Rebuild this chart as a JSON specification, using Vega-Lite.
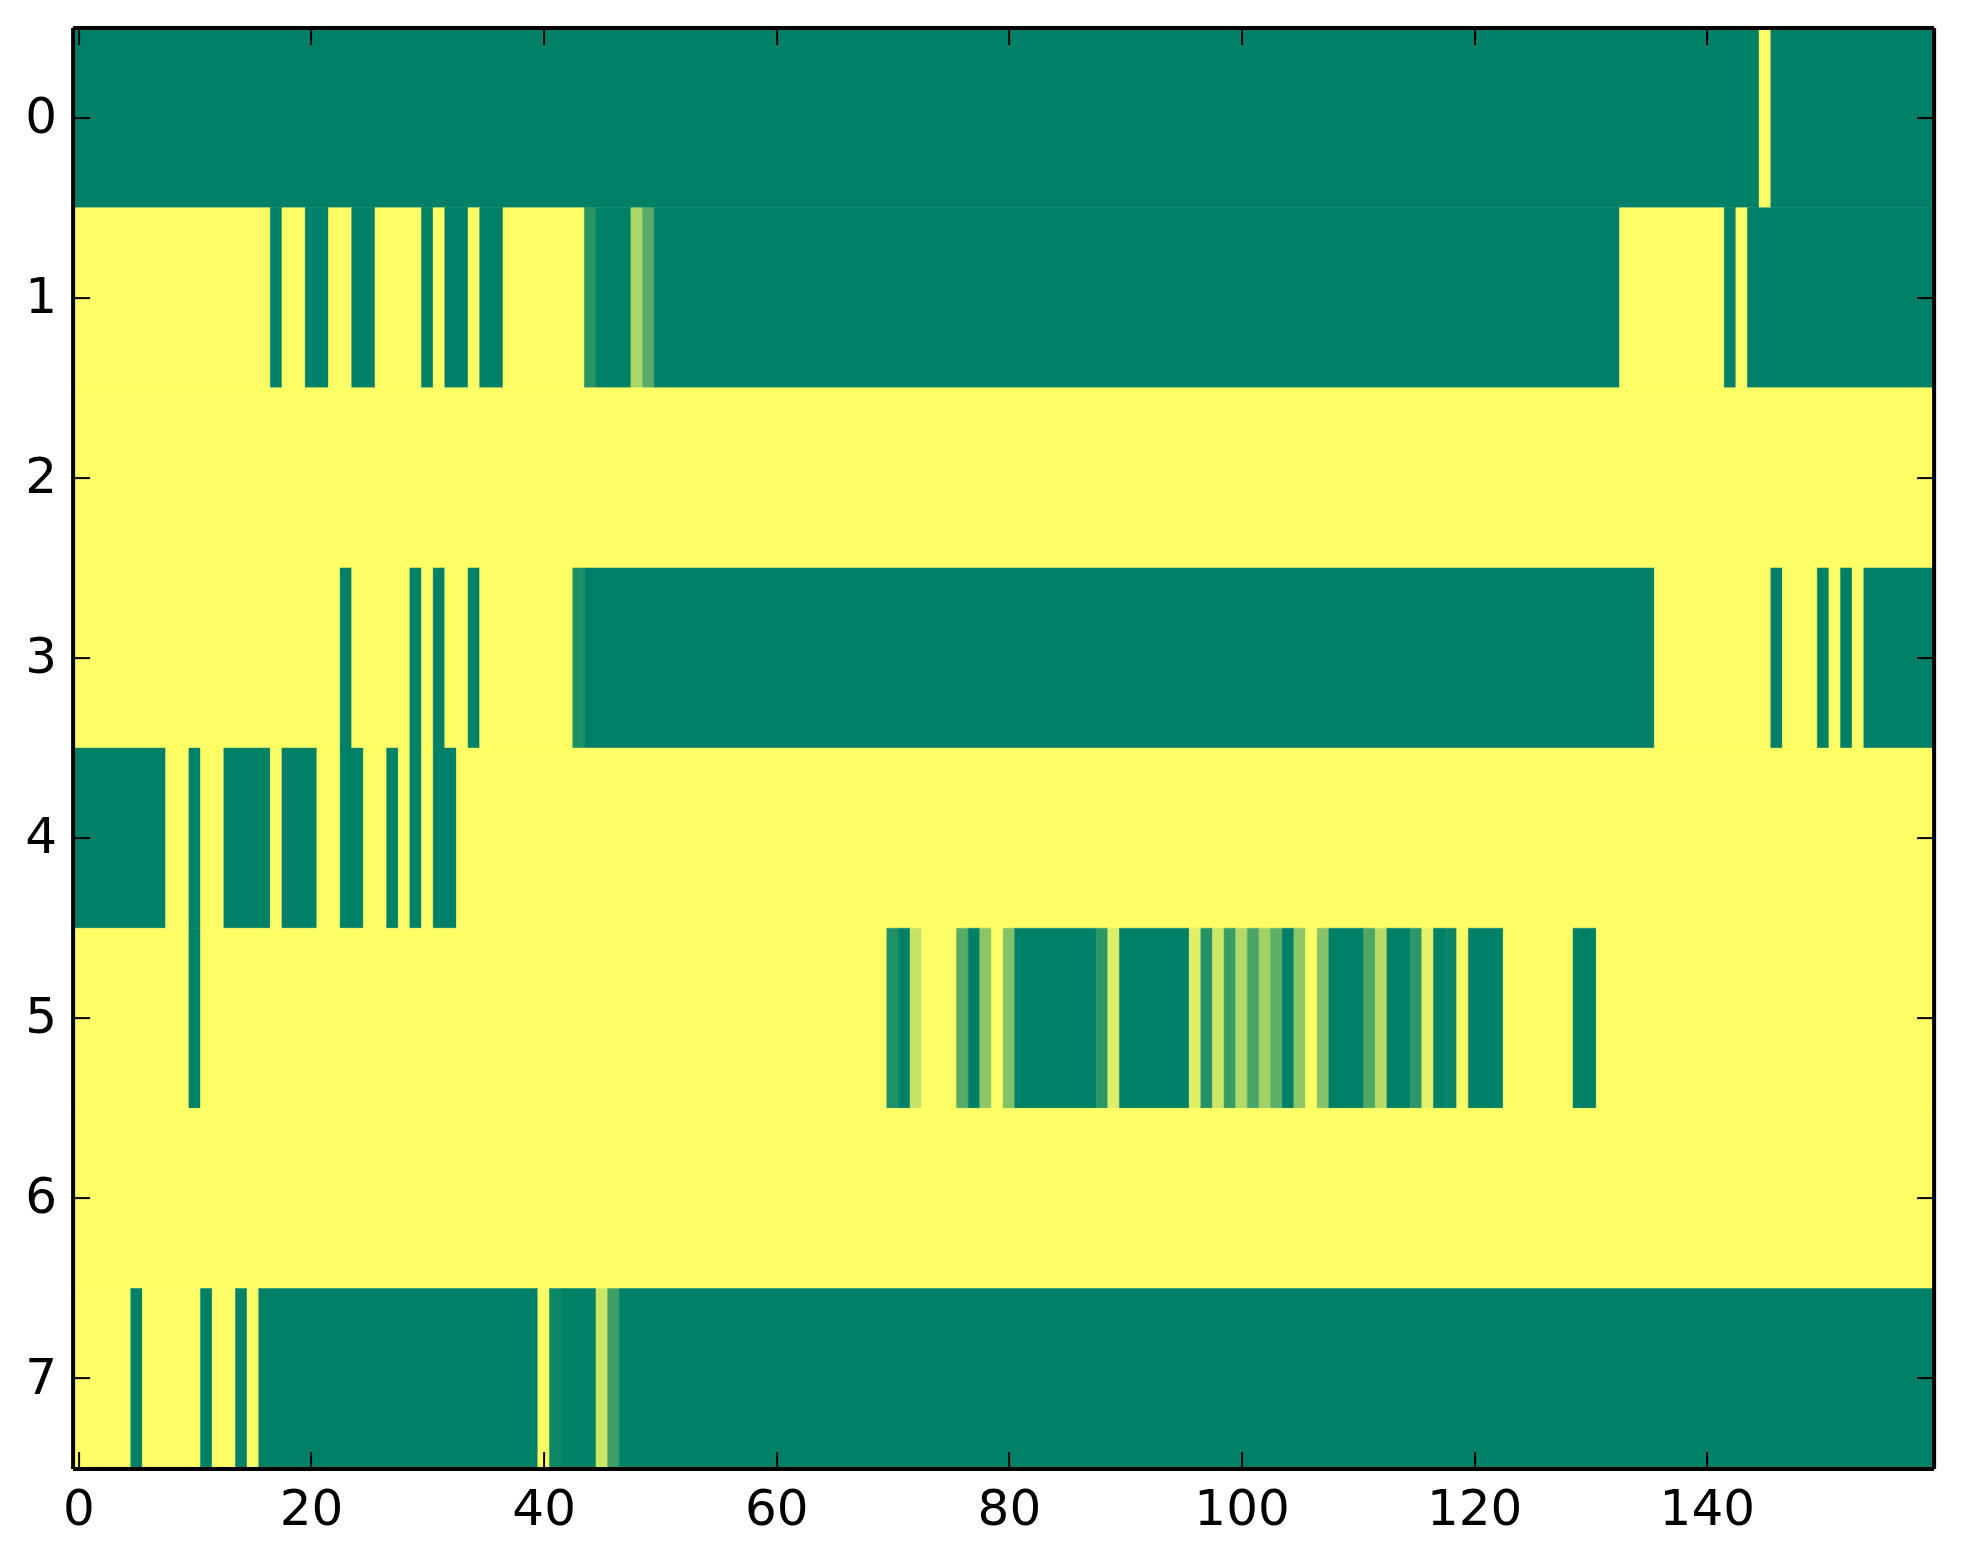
{
  "$schema": "https://vega.github.io/schema/vega-lite/v6.json",
  "width": 1861,
  "height": 1441,
  "autosize": {"type": "none"},
  "padding": {"left": 72.6, "top": 27.6, "right": 29.4, "bottom": 95.4},
  "background": "white",
  "data": {
    "values": [
      {"row": 0, "x0": -0.5, "x1": 144.5, "v": 0},
      {"row": 0, "x0": 144.5, "x1": 145.5, "v": 1},
      {"row": 0, "x0": 145.5, "x1": 159.5, "v": 0},

      {"row": 1, "x0": -0.5, "x1": 16.5, "v": 1},
      {"row": 1, "x0": 16.5, "x1": 17.5, "v": 0},
      {"row": 1, "x0": 17.5, "x1": 19.5, "v": 1},
      {"row": 1, "x0": 19.5, "x1": 21.5, "v": 0},
      {"row": 1, "x0": 21.5, "x1": 23.5, "v": 1},
      {"row": 1, "x0": 23.5, "x1": 25.5, "v": 0},
      {"row": 1, "x0": 25.5, "x1": 29.5, "v": 1},
      {"row": 1, "x0": 29.5, "x1": 30.5, "v": 0},
      {"row": 1, "x0": 30.5, "x1": 31.5, "v": 1},
      {"row": 1, "x0": 31.5, "x1": 33.5, "v": 0},
      {"row": 1, "x0": 33.5, "x1": 34.5, "v": 1},
      {"row": 1, "x0": 34.5, "x1": 36.5, "v": 0},
      {"row": 1, "x0": 36.5, "x1": 43.5, "v": 1},
      {"row": 1, "x0": 43.5, "x1": 44.5, "v": 0.16},
      {"row": 1, "x0": 44.5, "x1": 47.5, "v": 0},
      {"row": 1, "x0": 47.5, "x1": 48.5, "v": 0.68},
      {"row": 1, "x0": 48.5, "x1": 49.5, "v": 0.35},
      {"row": 1, "x0": 49.5, "x1": 132.5, "v": 0},
      {"row": 1, "x0": 132.5, "x1": 141.5, "v": 1},
      {"row": 1, "x0": 141.5, "x1": 142.5, "v": 0},
      {"row": 1, "x0": 142.5, "x1": 143.5, "v": 1},
      {"row": 1, "x0": 143.5, "x1": 159.5, "v": 0},

      {"row": 2, "x0": -0.5, "x1": 159.5, "v": 1},

      {"row": 3, "x0": -0.5, "x1": 22.5, "v": 1},
      {"row": 3, "x0": 22.5, "x1": 23.5, "v": 0},
      {"row": 3, "x0": 23.5, "x1": 28.5, "v": 1},
      {"row": 3, "x0": 28.5, "x1": 29.5, "v": 0},
      {"row": 3, "x0": 29.5, "x1": 30.5, "v": 1},
      {"row": 3, "x0": 30.5, "x1": 31.5, "v": 0},
      {"row": 3, "x0": 31.5, "x1": 33.5, "v": 1},
      {"row": 3, "x0": 33.5, "x1": 34.5, "v": 0},
      {"row": 3, "x0": 34.5, "x1": 42.5, "v": 1},
      {"row": 3, "x0": 42.5, "x1": 43.5, "v": 0.12},
      {"row": 3, "x0": 43.5, "x1": 135.5, "v": 0},
      {"row": 3, "x0": 135.5, "x1": 145.5, "v": 1},
      {"row": 3, "x0": 145.5, "x1": 146.5, "v": 0},
      {"row": 3, "x0": 146.5, "x1": 149.5, "v": 1},
      {"row": 3, "x0": 149.5, "x1": 150.5, "v": 0},
      {"row": 3, "x0": 150.5, "x1": 151.5, "v": 1},
      {"row": 3, "x0": 151.5, "x1": 152.5, "v": 0},
      {"row": 3, "x0": 152.5, "x1": 153.5, "v": 1},
      {"row": 3, "x0": 153.5, "x1": 159.5, "v": 0},

      {"row": 4, "x0": -0.5, "x1": 7.5, "v": 0},
      {"row": 4, "x0": 7.5, "x1": 9.5, "v": 1},
      {"row": 4, "x0": 9.5, "x1": 10.5, "v": 0},
      {"row": 4, "x0": 10.5, "x1": 12.5, "v": 1},
      {"row": 4, "x0": 12.5, "x1": 16.5, "v": 0},
      {"row": 4, "x0": 16.5, "x1": 17.5, "v": 1},
      {"row": 4, "x0": 17.5, "x1": 20.5, "v": 0},
      {"row": 4, "x0": 20.5, "x1": 22.5, "v": 1},
      {"row": 4, "x0": 22.5, "x1": 24.5, "v": 0},
      {"row": 4, "x0": 24.5, "x1": 26.5, "v": 1},
      {"row": 4, "x0": 26.5, "x1": 27.5, "v": 0},
      {"row": 4, "x0": 27.5, "x1": 28.5, "v": 1},
      {"row": 4, "x0": 28.5, "x1": 29.5, "v": 0},
      {"row": 4, "x0": 29.5, "x1": 30.5, "v": 1},
      {"row": 4, "x0": 30.5, "x1": 32.5, "v": 0},
      {"row": 4, "x0": 32.5, "x1": 159.5, "v": 1},

      {"row": 5, "x0": -0.5, "x1": 9.5, "v": 1},
      {"row": 5, "x0": 9.5, "x1": 10.5, "v": 0},
      {"row": 5, "x0": 10.5, "x1": 69.5, "v": 1},
      {"row": 5, "x0": 69.5, "x1": 70.5, "v": 0.13},
      {"row": 5, "x0": 70.5, "x1": 71.5, "v": 0},
      {"row": 5, "x0": 71.5, "x1": 72.5, "v": 0.78},
      {"row": 5, "x0": 72.5, "x1": 75.5, "v": 1},
      {"row": 5, "x0": 75.5, "x1": 76.5, "v": 0.35},
      {"row": 5, "x0": 76.5, "x1": 77.5, "v": 0},
      {"row": 5, "x0": 77.5, "x1": 78.5, "v": 0.55},
      {"row": 5, "x0": 78.5, "x1": 79.5, "v": 1},
      {"row": 5, "x0": 79.5, "x1": 80.5, "v": 0.51},
      {"row": 5, "x0": 80.5, "x1": 87.5, "v": 0},
      {"row": 5, "x0": 87.5, "x1": 88.5, "v": 0.17},
      {"row": 5, "x0": 88.5, "x1": 89.5, "v": 0.87},
      {"row": 5, "x0": 89.5, "x1": 95.5, "v": 0},
      {"row": 5, "x0": 95.5, "x1": 96.5, "v": 0.88},
      {"row": 5, "x0": 96.5, "x1": 97.5, "v": 0.14},
      {"row": 5, "x0": 97.5, "x1": 98.5, "v": 0.8},
      {"row": 5, "x0": 98.5, "x1": 99.5, "v": 0.22},
      {"row": 5, "x0": 99.5, "x1": 100.5, "v": 0.7},
      {"row": 5, "x0": 100.5, "x1": 101.5, "v": 0.29},
      {"row": 5, "x0": 101.5, "x1": 102.5, "v": 0.63},
      {"row": 5, "x0": 102.5, "x1": 103.5, "v": 0.37},
      {"row": 5, "x0": 103.5, "x1": 104.5, "v": 0},
      {"row": 5, "x0": 104.5, "x1": 105.5, "v": 0.55},
      {"row": 5, "x0": 105.5, "x1": 106.5, "v": 1},
      {"row": 5, "x0": 106.5, "x1": 107.5, "v": 0.53},
      {"row": 5, "x0": 107.5, "x1": 110.5, "v": 0},
      {"row": 5, "x0": 110.5, "x1": 111.5, "v": 0.31},
      {"row": 5, "x0": 111.5, "x1": 112.5, "v": 0.72},
      {"row": 5, "x0": 112.5, "x1": 114.5, "v": 0},
      {"row": 5, "x0": 114.5, "x1": 115.5, "v": 0.17},
      {"row": 5, "x0": 115.5, "x1": 116.5, "v": 0.9},
      {"row": 5, "x0": 116.5, "x1": 117.5, "v": 0},
      {"row": 5, "x0": 117.5, "x1": 118.5, "v": 0.04},
      {"row": 5, "x0": 118.5, "x1": 119.5, "v": 1},
      {"row": 5, "x0": 119.5, "x1": 122.5, "v": 0},
      {"row": 5, "x0": 122.5, "x1": 128.5, "v": 1},
      {"row": 5, "x0": 128.5, "x1": 130.5, "v": 0},
      {"row": 5, "x0": 130.5, "x1": 159.5, "v": 1},

      {"row": 6, "x0": -0.5, "x1": 159.5, "v": 1},

      {"row": 7, "x0": -0.5, "x1": 4.5, "v": 1},
      {"row": 7, "x0": 4.5, "x1": 5.5, "v": 0},
      {"row": 7, "x0": 5.5, "x1": 10.5, "v": 1},
      {"row": 7, "x0": 10.5, "x1": 11.5, "v": 0},
      {"row": 7, "x0": 11.5, "x1": 13.5, "v": 1},
      {"row": 7, "x0": 13.5, "x1": 14.5, "v": 0},
      {"row": 7, "x0": 14.5, "x1": 15.5, "v": 1},
      {"row": 7, "x0": 15.5, "x1": 39.5, "v": 0},
      {"row": 7, "x0": 39.5, "x1": 40.5, "v": 1},
      {"row": 7, "x0": 40.5, "x1": 41.5, "v": 0.05},
      {"row": 7, "x0": 41.5, "x1": 44.5, "v": 0},
      {"row": 7, "x0": 44.5, "x1": 45.5, "v": 0.8},
      {"row": 7, "x0": 45.5, "x1": 46.5, "v": 0.24},
      {"row": 7, "x0": 46.5, "x1": 159.5, "v": 0}
    ]
  },
  "encoding": {
    "x": {"field": "x0", "type": "quantitative", "scale": {"domain": [-0.5, 159.5], "nice": false, "zero": false}},
    "x2": {"field": "x1"},
    "y": {"field": "row", "type": "ordinal", "scale": {"domain": [0, 1, 2, 3, 4, 5, 6, 7], "paddingInner": 0, "paddingOuter": 0}},
    "color": {"field": "v", "type": "quantitative", "legend": null,
      "scale": {"domain": [0, 1], "range": ["#008066", "#ffff66"], "interpolate": "rgb"}},
    "stroke": {"field": "v", "type": "quantitative", "legend": null,
      "scale": {"domain": [0, 1], "range": ["#008066", "#ffff66"], "interpolate": "rgb"}}
  },
  "layer": [
    {
      "mark": {"type": "rect", "strokeWidth": 0.5},
      "encoding": {
        "x": {"field": "x0", "type": "quantitative", "title": null,
          "axis": {"orient": "bottom", "values": [0, 20, 40, 60, 80, 100, 120, 140], "labelPadding": 33, "zindex": 2}},
        "y": {"field": "row", "type": "ordinal", "title": null,
          "axis": {"orient": "left", "labelPadding": 33, "labelAngle": 0, "zindex": 2}}
      }
    },
    {
      "mark": {"type": "rect", "opacity": 0},
      "encoding": {
        "x": {"field": "x0", "type": "quantitative", "title": null,
          "axis": {"orient": "top", "values": [0, 20, 40, 60, 80, 100, 120, 140], "labels": false, "zindex": 2}},
        "y": {"field": "row", "type": "ordinal", "title": null,
          "axis": {"orient": "right", "labels": false, "zindex": 2}}
      }
    }
  ],
  "resolve": {"axis": {"x": "independent", "y": "independent"}},
  "config": {
    "view": {"stroke": null},
    "axis": {
      "grid": false,
      "domainColor": "black",
      "domainWidth": 4,
      "tickColor": "black",
      "tickWidth": 2,
      "tickSize": -17,
      "labelFont": "DejaVu Sans",
      "labelFontSize": 50,
      "labelColor": "black",
      "labelFlush": false,
      "labelOverlap": false
    }
  }
}
